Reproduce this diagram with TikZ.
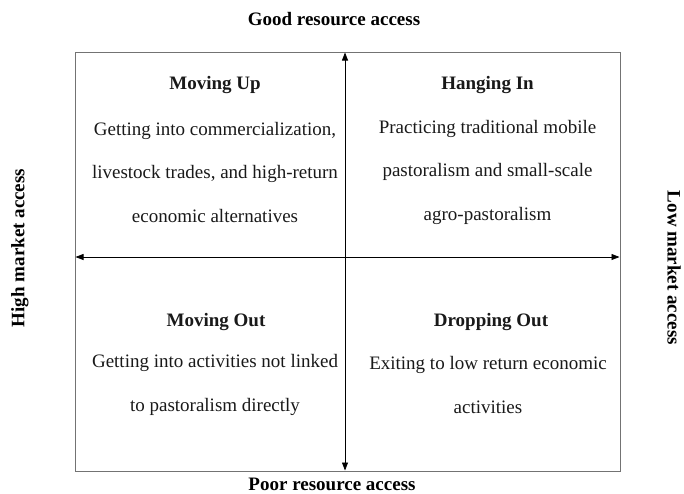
\documentclass[tikz,border=0pt]{standalone}
\usepackage{fontspec}
\setmainfont{Liberation Serif}
\usetikzlibrary{arrows.meta}
\begin{document}
\begin{tikzpicture}[x=1pt,y=-1pt,
  frame/.style={draw=black!55,line width=0.9pt},
  axis/.style={line width=0.7pt,{Triangle[length=8pt,width=6pt]}-{Triangle[length=8pt,width=6pt]}},
  axislabel/.style={font=\fontsize{19}{22}\selectfont\bfseries,inner sep=0pt},
  qtitle/.style={font=\fontsize{19}{22}\selectfont\bfseries,inner sep=0pt,text=black!90},
  qbody/.style={font=\fontsize{19}{43.5}\selectfont,align=center,inner sep=0pt,text=black!90}]
  \useasboundingbox (0,0) rectangle (684,493);
  % outer frame
  \draw[frame] (75,52) rectangle (620,471);
  % axes
  \coordinate (vtop) at (345,52.5);
  \coordinate (vbot) at (345,470.5);
  \coordinate (hleft) at (75.5,257);
  \coordinate (hright) at (619.5,257);
  \draw[axis] (vbot) -- (vtop);
  \draw[axis] (hleft) -- (hright);
  % axis labels
  \node[axislabel] (good) at (334,19) {Good resource access};
  \node[axislabel] (poor) at (332,484) {Poor resource access};
  \node[axislabel,rotate=90] (high) at (20,248) {High market access};
  \node[axislabel,rotate=-90] (low) at (674,268) {Low market access};
  % quadrants
  \node[qtitle] (upT) at (215,85.5) {Moving Up};
  \node[qbody] (upB) at (215,172) {Getting into commercialization,\\livestock trades, and high-return\\economic alternatives};
  \node[qtitle] (hangT) at (487.5,85.5) {Hanging In};
  \node[qbody] (hangB) at (487.5,172) {Practicing traditional mobile\\pastoralism and small-scale\\agro-pastoralism};
  \node[qtitle] (outT) at (216,322) {Moving Out};
  \node[qbody] (outB) at (215,385) {Getting into activities not linked\\to pastoralism directly};
  \node[qtitle] (dropT) at (491,322) {Dropping Out};
  \node[qbody] (dropB) at (488,385) {Exiting to low return economic\\activities};
\end{tikzpicture}
\end{document}
